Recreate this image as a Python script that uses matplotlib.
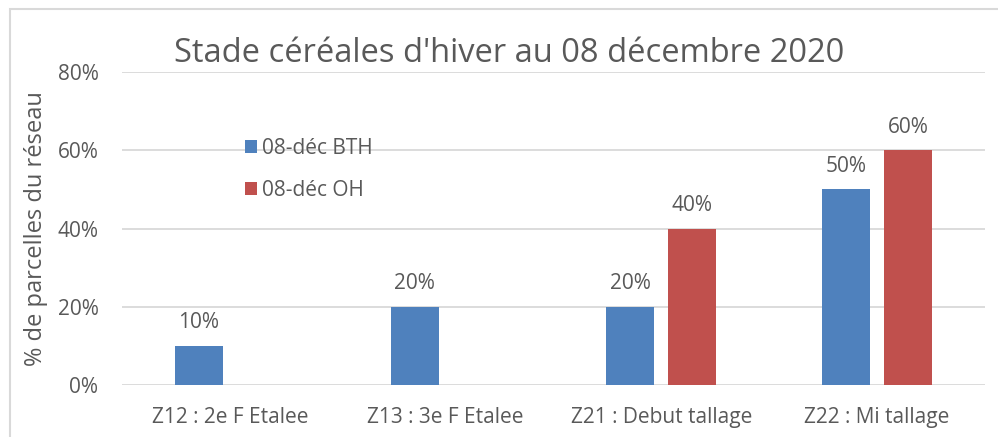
import numpy as np
import matplotlib.pyplot as plt
from matplotlib.patches import Rectangle

plt.rcParams['font.family'] = ['Open Sans', 'DejaVu Sans']

categories = ['Z12 : 2e F Etalee', 'Z13 : 3e F Etalee', 'Z21 : Debut tallage', 'Z22 : Mi tallage']
bth = [10, 20, 20, 50]
oh = [0, 0, 40, 60]
series_names = ['08-déc BTH', '08-déc OH']
colors = ['#4F81BD', '#C0504D']
yticks = [0, 20, 40, 60, 80]
txt = '#595959'

fig = plt.figure(figsize=(9.98, 4.37), dpi=100)
# chart frame (cut at right and bottom like the screenshot)
fig.patches.append(Rectangle((10 / 998, -0.1), 1.1, 1 - 9 / 437 + 0.1, transform=fig.transFigure,
                             fill=False, edgecolor='#D9D9D9', linewidth=1.5))
ax = fig.add_axes([122 / 998, 1 - 385 / 437, 863 / 998, 313 / 437])

x = np.arange(len(categories))
w = 0.222
off = 0.144
for vals, name, c, d in [(bth, series_names[0], colors[0], -off), (oh, series_names[1], colors[1], off)]:
    bars = ax.bar(x + d, vals, width=w, color=c, label=name, zorder=3)
    for xi, v in zip(x + d, vals):
        if v > 0:
            ax.annotate(f'{v}%', (xi, v), xytext=(0, 9), textcoords='offset points',
                        ha='center', va='bottom', fontsize=15, color=txt)

ax.set_xlim(-0.5, len(categories) - 0.5)
ax.set_ylim(0, 80)
ax.set_yticks(yticks)
ax.set_yticklabels([f'{t}%' for t in yticks])
ax.set_xticks(x)
ax.set_xticklabels(categories)
ax.tick_params(axis='both', length=0, labelsize=15, labelcolor=txt)
ax.tick_params(axis='x', pad=16)
ax.tick_params(axis='y', pad=17)
ax.grid(axis='y', color='#D9D9D9', linewidth=1.3, zorder=0)
for s in ax.spines.values():
    s.set_visible(False)

ax.set_ylabel('% de parcelles du réseau', fontsize=17, color=txt, labelpad=7)
fig.text(509 / 998, 1 - 54 / 437, "Stade céréales d'hiver au 08 décembre 2020",
         ha='center', va='center', fontsize=23.5, color=txt)

ax.legend(loc='upper left', bbox_to_anchor=(104 / 863, 1 - 47 / 313), frameon=False,
          fontsize=15, labelcolor=txt, handlelength=0.6, handleheight=0.6,
          handletextpad=0.25, labelspacing=1.0)

fig.savefig('out.png', dpi=100)
